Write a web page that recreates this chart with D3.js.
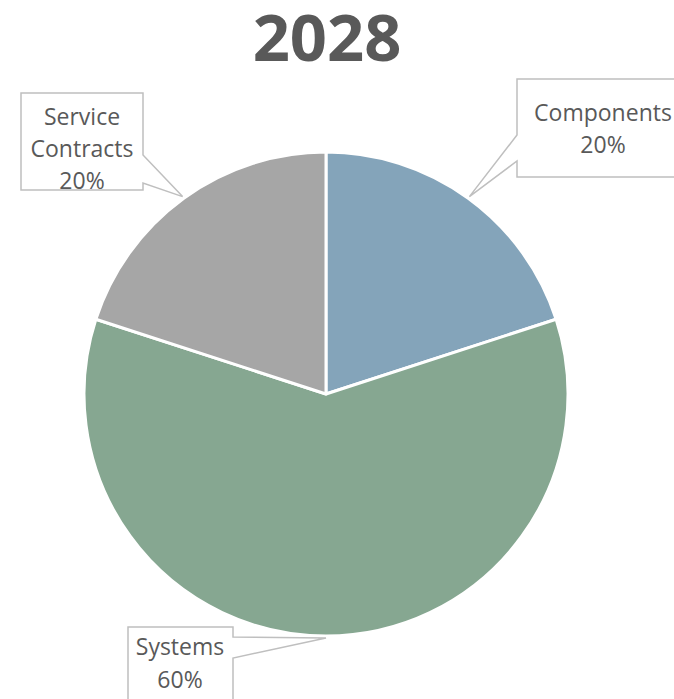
<!DOCTYPE html>
<html>
<head>
<meta charset="utf-8">
<script src="https://cdn.jsdelivr.net/npm/d3@7"></script>
<style>
  html, body { margin: 0; padding: 0; background: #fff; }
  svg { display: block; }
</style>
</head>
<body>
<svg id="chart" width="674" height="699"></svg>
<script>
// Revenue mix for 2028
const title = "2028";
const categories = ["Components", "Systems", "Service Contracts"];
const shares = [20, 60, 20];
const colors = ["#84a4ba", "#86a791", "#a6a6a6"];

// Callout placement: box rectangle and the two points where the pointer leaves the box edge
const callouts = [
  { box: [517, 79, 700, 177], edge: "left",  notch: [135, 161], lines: ["Components", "20%"], cx: 603, baselines: [121, 153] },
  { box: [128, 627, 233, 720], edge: "right", notch: [637, 658], lines: ["Systems", "60%"], cx: 180, baselines: [655, 688] },
  { box: [21, 93, 143, 190],  edge: "right", notch: [155, 183], lines: ["Service", "Contracts", "20%"], cx: 82, baselines: [125, 157, 189] }
];

const svg = d3.select("#chart");
const cx = 326, cy = 394, radius = 242;
const textColor = "#595959";

svg.append("text")
  .attr("x", 327).attr("y", 61)
  .attr("text-anchor", "middle")
  .attr("font-family", "'Open Sans', sans-serif")
  .attr("font-weight", 700)
  .attr("font-size", 65)
  .attr("fill", textColor)
  .text(title);

const pie = d3.pie().sort(null).value(d => d)(shares);
const arc = d3.arc().innerRadius(0).outerRadius(radius);

const g = svg.append("g").attr("transform", `translate(${cx},${cy})`);
g.selectAll("path.slice")
  .data(pie)
  .join("path")
  .attr("class", "slice")
  .attr("d", arc)
  .attr("fill", (d, i) => colors[i])
  .attr("stroke", "#fff")
  .attr("stroke-width", 3)
  .attr("stroke-linejoin", "round");

// Callouts: white box with a pointer ending on the slice rim at its mid-angle
const tipR = radius + 2;
pie.forEach((d, i) => {
  const c = callouts[i];
  const mid = (d.startAngle + d.endAngle) / 2;
  const tx = cx + tipR * Math.sin(mid);
  const ty = cy - tipR * Math.cos(mid);
  const [x0, y0, x1, y1] = c.box;
  const [n0, n1] = c.notch;
  let pts;
  if (c.edge === "left") {
    pts = [[x0, y0], [x1, y0], [x1, y1], [x0, y1], [x0, n1], [tx, ty], [x0, n0]];
  } else {
    pts = [[x0, y0], [x1, y0], [x1, n0], [tx, ty], [x1, n1], [x1, y1], [x0, y1]];
  }
  svg.append("path")
    .attr("d", d3.line()(pts) + "Z")
    .attr("fill", "#fff")
    .attr("stroke", "#bfbfbf")
    .attr("stroke-width", 1.5);
  const t = svg.append("text")
    .attr("text-anchor", "middle")
    .attr("font-family", "'Open Sans', sans-serif")
    .attr("font-size", 23)
    .attr("fill", textColor);
  c.lines.forEach((ln, k) => {
    t.append("tspan").attr("x", c.cx).attr("y", c.baselines[k]).text(ln);
  });
});
</script>
</body>
</html>
